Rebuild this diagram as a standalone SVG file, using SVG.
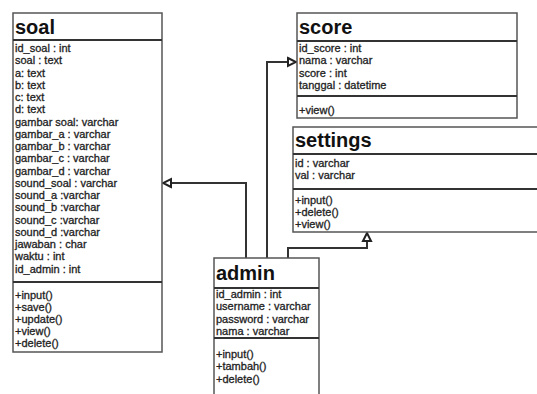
<svg xmlns="http://www.w3.org/2000/svg" width="537" height="394" viewBox="0 0 537 394">
<defs>
<style>
.box{fill:#fff;stroke:#555;stroke-width:1.5}
.div{stroke:#333;stroke-width:2}
.title{font-family:"Liberation Sans",Arial,sans-serif;font-weight:bold;font-size:20px;fill:#111}
.t{font-family:"Liberation Sans",Arial,sans-serif;font-size:11px;fill:#222;stroke:#222;stroke-width:0.3}
.conn{fill:none;stroke:#333;stroke-width:2}
</style>
<marker id="tri" markerUnits="userSpaceOnUse" markerWidth="12" markerHeight="12" viewBox="0 0 12 12" refX="10" refY="6" orient="auto">
<path d="M2,2 L10,6 L2,10 Z" fill="#fff" stroke="#222" stroke-width="2"/>
</marker>
</defs>
<rect width="537" height="394" fill="#fff"/>
<g id="connectors">
<path class="conn" d="M246,258 V183 H163" marker-end="url(#tri)"/>
<path class="conn" d="M267,258 V62 H296" marker-end="url(#tri)"/>
<path class="conn" d="M288,258 V248 H367 V233" marker-end="url(#tri)"/>
</g>
<g id="soal">
<rect class="box" x="13" y="13" width="149" height="339"/>
<line class="div" x1="13" y1="40" x2="162" y2="40"/>
<line class="div" x1="13" y1="282" x2="162" y2="282"/>
<text class="title" x="15" y="34">soal</text>
<text class="t"><tspan x="15" y="52">id_soal : int</tspan><tspan x="15" dy="12.25">soal : text</tspan><tspan x="15" dy="12.25">a: text</tspan><tspan x="15" dy="12.25">b: text</tspan><tspan x="15" dy="12.25">c: text</tspan><tspan x="15" dy="12.25">d: text</tspan><tspan x="15" dy="12.25">gambar soal: varchar</tspan><tspan x="15" dy="12.25">gambar_a : varchar</tspan><tspan x="15" dy="12.25">gambar_b : varchar</tspan><tspan x="15" dy="12.25">gambar_c : varchar</tspan><tspan x="15" dy="12.25">gambar_d : varchar</tspan><tspan x="15" dy="12.25">sound_soal : varchar</tspan><tspan x="15" dy="12.25">sound_a :varchar</tspan><tspan x="15" dy="12.25">sound_b :varchar</tspan><tspan x="15" dy="12.25">sound_c :varchar</tspan><tspan x="15" dy="12.25">sound_d :varchar</tspan><tspan x="15" dy="12.25">jawaban : char</tspan><tspan x="15" dy="12.25">waktu : int</tspan><tspan x="15" dy="12.25">id_admin : int</tspan></text>
<text class="t"><tspan x="15" y="299">+input()</tspan><tspan x="15" dy="12">+save()</tspan><tspan x="15" dy="12">+update()</tspan><tspan x="15" dy="12">+view()</tspan><tspan x="15" dy="12">+delete()</tspan></text>
</g>
<g id="score">
<rect class="box" x="297" y="13" width="220" height="105"/>
<line class="div" x1="297" y1="41" x2="517" y2="41"/>
<line class="div" x1="297" y1="96" x2="517" y2="96"/>
<text class="title" x="299" y="34">score</text>
<text class="t"><tspan x="299" y="52">id_score : int</tspan><tspan x="299" dy="12.3">nama : varchar</tspan><tspan x="299" dy="12.3">score : int</tspan><tspan x="299" dy="12.3">tanggal : datetime</tspan></text>
<text class="t" x="299" y="114">+view()</text>
</g>
<g id="settings">
<rect class="box" x="293" y="127" width="250" height="105"/>
<line class="div" x1="293" y1="154" x2="543" y2="154"/>
<line class="div" x1="293" y1="189" x2="543" y2="189"/>
<text class="title" x="295" y="147">settings</text>
<text class="t"><tspan x="295" y="167">id : varchar</tspan><tspan x="295" dy="12">val : varchar</tspan></text>
<text class="t"><tspan x="295" y="204">+input()</tspan><tspan x="295" dy="12">+delete()</tspan><tspan x="295" dy="12">+view()</tspan></text>
</g>
<g id="admin">
<rect class="box" x="214" y="258" width="105" height="145"/>
<line class="div" x1="214" y1="288" x2="319" y2="288"/>
<line class="div" x1="214" y1="338" x2="319" y2="338"/>
<text class="title" x="216" y="280">admin</text>
<text class="t"><tspan x="216" y="298">id_admin : int</tspan><tspan x="216" dy="12.3">username : varchar</tspan><tspan x="216" dy="12.3">password : varchar</tspan><tspan x="216" dy="12.3">nama : varchar</tspan></text>
<text class="t"><tspan x="216" y="358">+input()</tspan><tspan x="216" dy="12.3">+tambah()</tspan><tspan x="216" dy="12.3">+delete()</tspan></text>
</g>
</svg>
